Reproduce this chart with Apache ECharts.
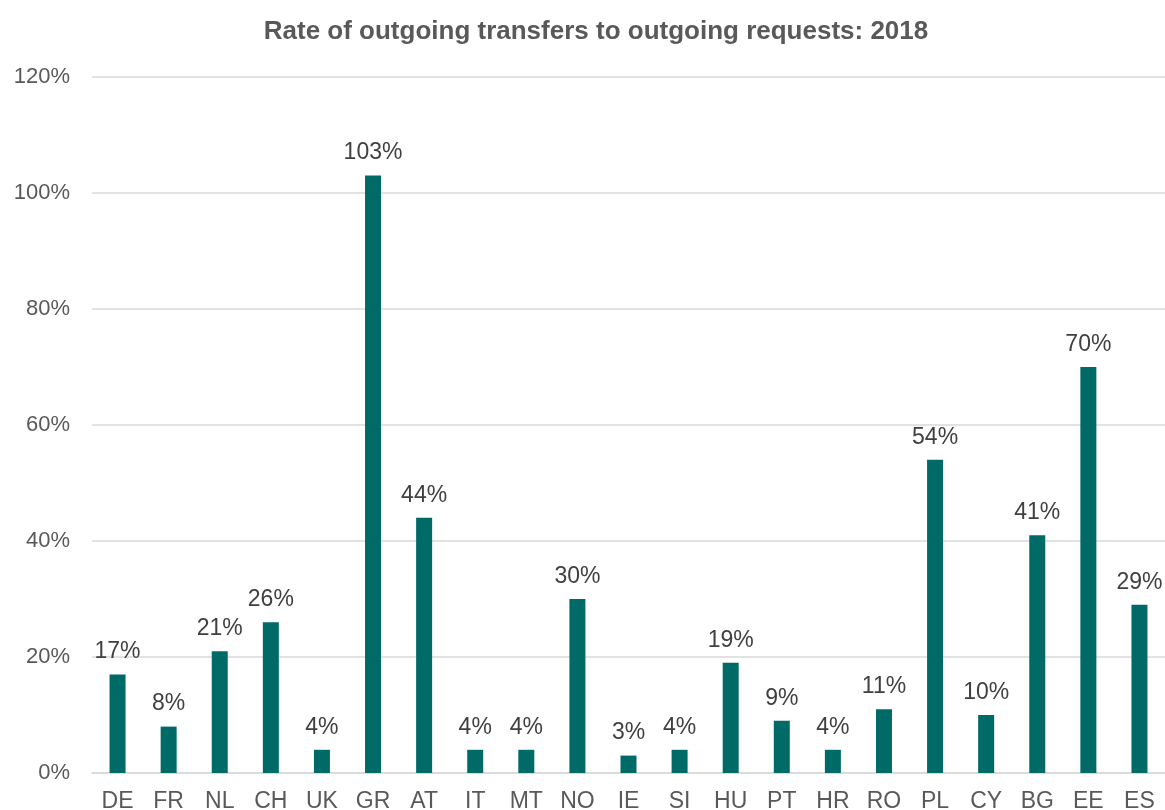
<!DOCTYPE html>
<html>
<head>
<meta charset="utf-8">
<script src="https://cdn.jsdelivr.net/npm/echarts@6/dist/echarts.min.js"></script>
<style>
  html, body { margin: 0; padding: 0; background: #fff; }
  #chart { width: 1165px; height: 810px; }
</style>
</head>
<body>
<div id="chart"></div>
<script>
    // countries, in the order shown
    var countries = ['DE', 'FR', 'NL', 'CH', 'UK', 'GR', 'AT', 'IT', 'MT', 'NO', 'IE',
        'SI', 'HU', 'PT', 'HR', 'RO', 'PL', 'CY', 'BG', 'EE', 'ES'];
    // rate (%) of outgoing transfers to outgoing requests
    var rates = [17, 8, 21, 26, 4, 103, 44, 4, 4, 30, 3, 4, 19, 9, 4, 11, 54, 10, 41, 70, 29];

    var dom = echarts.init(document.getElementById('chart'));
    var option = {
        backgroundColor: '#ffffff',
        animation: false,
        title: {
            text: 'Rate of outgoing transfers to outgoing requests: 2018',
            left: 591,
            top: 14,
            textAlign: 'center',
            textStyle: {
                fontFamily: 'Liberation Sans',
                fontSize: 26,
                fontWeight: 'bold',
                color: '#595959'
            }
        },
        grid: {
            left: 92,
            right: 0,
            top: 77,
            bottom: 37,
            outerBoundsMode: 'none'
        },
        xAxis: {
            type: 'category',
            data: countries,
            axisTick: {show: false},
            axisLine: {lineStyle: {color: '#d9d9d9', width: 1.5}},
            axisLabel: {
                margin: 17,
                interval: 0,
                fontFamily: 'Liberation Sans',
                fontSize: 23,
                color: '#595959'
            }
        },
        yAxis: {
            type: 'value',
            min: 0,
            max: 120,
            interval: 20,
            axisLine: {show: false},
            axisTick: {show: false},
            splitLine: {lineStyle: {color: '#d9d9d9', width: 1.5}},
            axisLabel: {
                margin: 22,
                formatter: '{value}%',
                fontFamily: 'Liberation Sans',
                fontSize: 22,
                color: '#595959'
            }
        },
        series: [{
            type: 'bar',
            data: rates,
            barWidth: 16,
            itemStyle: {color: '#006a66'},
            label: {
                show: true,
                position: 'top',
                distance: 11,
                formatter: '{c}%',
                fontFamily: 'Liberation Sans',
                fontSize: 23,
                color: '#404040'
            }
        }]
    };
    dom.setOption(option);
</script>
</body>
</html>
